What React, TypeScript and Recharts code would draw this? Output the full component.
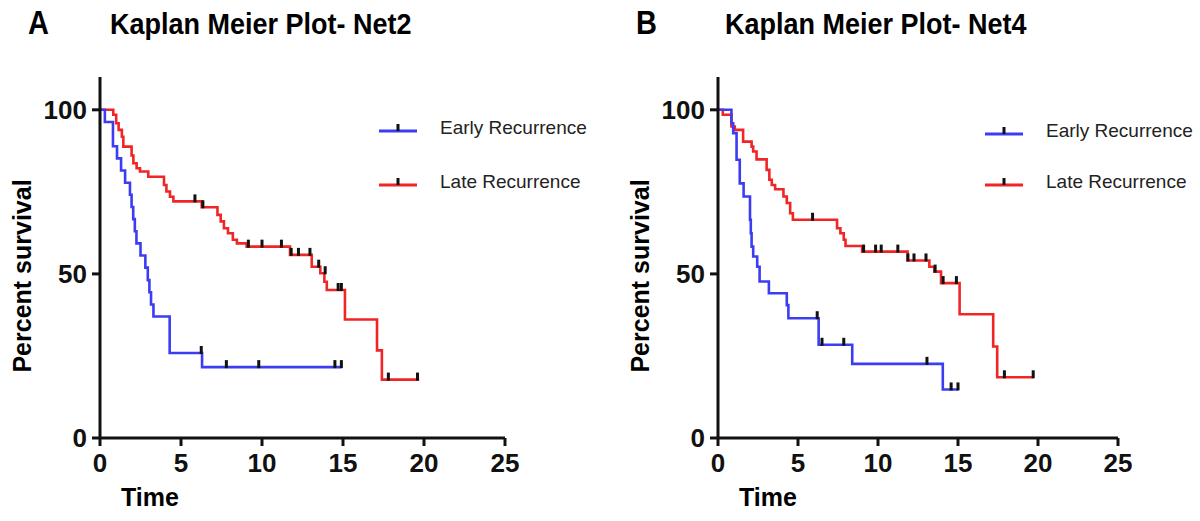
import { ComposedChart, Line, Scatter, XAxis, YAxis } from "recharts"

const X_TICKS = [0, 5, 10, 15, 20, 25]
const Y_TICKS = [0, 50, 100]

// Net2 - early recurrence (step times, percent survival)
const NET2_EARLY_T = [0, 0.3, 0.8, 1.05, 1.3, 1.55, 1.85, 1.95, 2.05, 2.15, 2.25, 2.5, 2.8, 2.95, 3.05, 3.15, 3.3, 4.3, 6.3, 14.9]
const NET2_EARLY_S = [100, 96.3, 88.9, 85.2, 81.5, 77.8, 74.1, 70.4, 66.7, 63, 59.3, 55.6, 51.9, 48.1, 44.4, 40.7, 37, 25.9, 21.6, 21.6]
const NET2_EARLY_CENS_T = [6.25, 7.8, 9.8, 14.5, 14.9]
const NET2_EARLY_CENS_S = [25.9, 21.6, 21.6, 21.6, 21.6]

// Net2 - late recurrence
const NET2_LATE_T = [0, 0.82, 1.0, 1.15, 1.35, 1.44, 1.95, 2.06, 2.26, 2.47, 2.98, 3.95, 4.1, 4.32, 4.53, 6.28, 7.25, 7.45, 7.65, 7.9, 8.2, 8.45, 9.05, 11.73, 13.07, 13.6, 13.85, 14.0, 15.12, 17.1, 17.4, 19.7]
const NET2_LATE_S = [100, 98.5, 95.9, 93.9, 91.8, 88.8, 86.1, 83.7, 82.2, 81.2, 79.6, 77.1, 75.1, 73.5, 72.1, 70.3, 68, 66, 63.9, 62.4, 60.4, 59.3, 58.3, 55.8, 52.2, 50.2, 47.6, 45.1, 36.1, 26.7, 17.8, 17.8]
const NET2_LATE_CENS_T = [5.86, 6.35, 9.16, 10.0, 11.2, 11.8, 12.25, 12.96, 13.5, 13.9, 14.7, 14.9, 17.8, 19.6]
const NET2_LATE_CENS_S = [72.1, 70.3, 58.3, 58.3, 58.3, 55.8, 55.8, 55.8, 52.2, 50.2, 45.1, 45.1, 17.8, 17.8]

// Net4 - early recurrence
const NET4_EARLY_T = [0, 0.84, 0.95, 1.16, 1.36, 1.6, 2.0, 2.05, 2.1, 2.2, 2.45, 2.6, 3.18, 4.3, 4.4, 6.29, 8.39, 14.05, 15.0]
const NET4_EARLY_S = [100, 95.9, 92.9, 84.8, 77.6, 73.6, 66.5, 62.4, 58.3, 55.3, 52.2, 47.7, 44.1, 40.5, 36.5, 28.4, 22.6, 14.8, 14.8]
const NET4_EARLY_CENS_T = [6.2, 6.5, 7.86, 13.06, 14.57, 15.0]
const NET4_EARLY_CENS_S = [36.5, 28.4, 28.4, 22.6, 14.8, 14.8]

// Net4 - late recurrence
const NET4_LATE_T = [0, 0.3, 0.84, 1.05, 1.57, 2.1, 2.2, 2.41, 3.04, 3.21, 3.36, 3.57, 4.09, 4.3, 4.51, 4.68, 7.44, 7.65, 7.86, 7.97, 9.01, 11.85, 13.21, 13.52, 13.94, 15.1, 17.2, 17.45, 19.7]
const NET4_LATE_S = [100, 98.5, 94.9, 93.9, 90.3, 88.8, 87.3, 84.9, 81.7, 78.7, 77.1, 75.8, 73.6, 71.6, 68.5, 66.5, 63.9, 62.4, 60.4, 58.5, 56.8, 54.1, 52.2, 50.7, 47.2, 37.7, 27.9, 18.5, 18.5]
const NET4_LATE_CENS_T = [5.91, 9.1, 9.85, 10.2, 11.24, 11.87, 12.25, 13.0, 13.57, 14.07, 14.9, 17.9, 19.7]
const NET4_LATE_CENS_S = [66.5, 56.8, 56.8, 56.8, 56.8, 54.1, 54.1, 54.1, 50.7, 47.2, 47.2, 18.5, 18.5]

const SERIES_NAMES = ["Early Recurrence", "Late Recurrence"]

const BLUE = "#3c3cf2"
const RED = "#f02525"
const FONT = "'Liberation Sans', Arial, sans-serif"

const zip = (t: number[], s: number[]) => t.map((x, i) => ({ t: x, s: s[i] }))

function CensorMark(props: any) {
  const { cx, cy } = props
  if (cx == null || cy == null) return <g />
  return <rect x={cx - 1.5} y={cy - 7} width={3} height={8} fill="#111" />
}

function LegendBox({ left, top, gap }: { left: number; top: number; gap: number }) {
  const colors = [BLUE, RED]
  return (
    <div style={{ position: "absolute", left, top, fontFamily: FONT, fontSize: 19, color: "#222" }}>
      {SERIES_NAMES.map((name, i) => (
        <div key={name} style={{ display: "flex", alignItems: "center", height: gap }}>
          <svg width={40} height={16} style={{ display: "block" }}>
            <line x1={0} y1={11} x2={38} y2={11} stroke={colors[i]} strokeWidth={3} />
            <rect x={17.5} y={4} width={3} height={7} fill="#111" />
          </svg>
          <span style={{ marginLeft: 21 }}>{name}</span>
        </div>
      ))}
    </div>
  )
}

interface PanelProps {
  left: number
  letter: string
  letterLeft: number
  title: string
  titleLeft: number
  plotWidth: number
  early: { t: number; s: number }[]
  late: { t: number; s: number }[]
  earlyCens: { t: number; s: number }[]
  lateCens: { t: number; s: number }[]
  legendLeft: number
  legendTop: number
  legendGap: number
}

function Panel(p: PanelProps) {
  const tickStyle = { fontSize: 26, fontWeight: 700, fill: "#111", fontFamily: FONT }
  return (
    <div style={{ position: "absolute", left: p.left, top: 0, width: 600, height: 521 }}>
      <ComposedChart
        width={600}
        height={521}
        margin={{ top: 77, right: 600 - 100 - p.plotWidth, bottom: 0, left: 0 }}
      >
        <XAxis
          type="number"
          dataKey="t"
          domain={[0, 25]}
          ticks={X_TICKS}
          allowDataOverflow
          height={83}
          stroke="#111"
          strokeWidth={3}
          tickSize={8}
          tickMargin={8}
          tick={tickStyle}
        />
        <YAxis
          type="number"
          dataKey="s"
          domain={[0, 110]}
          ticks={Y_TICKS}
          allowDataOverflow
          width={100}
          stroke="#111"
          strokeWidth={3}
          tickSize={8}
          tickMargin={5}
          tick={tickStyle}
        />
        <Line data={p.late} dataKey="s" type="stepAfter" stroke={RED} strokeWidth={2.6} dot={false} isAnimationActive={false} />
        <Line data={p.early} dataKey="s" type="stepAfter" stroke={BLUE} strokeWidth={2.6} dot={false} isAnimationActive={false} />
        <Scatter data={p.lateCens} dataKey="s" shape={CensorMark} isAnimationActive={false} />
        <Scatter data={p.earlyCens} dataKey="s" shape={CensorMark} isAnimationActive={false} />
      </ComposedChart>

      <div
        style={{
          position: "absolute",
          left: p.letterLeft,
          top: 4,
          fontFamily: FONT,
          fontSize: 29,
          fontWeight: 700,
          lineHeight: "34px",
          transform: "scaleY(1.12)",
          transformOrigin: "0 0",
        }}
      >
        {p.letter}
      </div>
      <div
        style={{
          position: "absolute",
          left: p.titleLeft,
          top: 5,
          fontFamily: FONT,
          fontSize: 27,
          fontWeight: 700,
          lineHeight: "34px",
          whiteSpace: "nowrap",
          transform: "scaleY(1.12)",
          transformOrigin: "0 0",
        }}
      >
        {p.title}
      </div>
      <div
        style={{
          position: "absolute",
          left: 22,
          top: 276,
          transform: "translate(-50%, -50%) rotate(-90deg)",
          fontFamily: FONT,
          fontSize: 25,
          fontWeight: 700,
          whiteSpace: "nowrap",
        }}
      >
        Percent survival
      </div>
      <div style={{ position: "absolute", left: 150, top: 497, transform: "translate(-50%, -50%)", fontFamily: FONT, fontSize: 25, fontWeight: 700 }}>
        Time
      </div>
      <LegendBox left={p.legendLeft} top={p.legendTop} gap={p.legendGap} />
    </div>
  )
}

export default function App() {
  return (
    <div style={{ position: "absolute", left: 0, top: 0, width: 1200, height: 521, background: "#fff", overflow: "hidden" }}>
      <Panel
        left={0}
        letter="A"
        letterLeft={28}
        title="Kaplan Meier Plot- Net2"
        titleLeft={110}
        plotWidth={405}
        early={zip(NET2_EARLY_T, NET2_EARLY_S)}
        late={zip(NET2_LATE_T, NET2_LATE_S)}
        earlyCens={zip(NET2_EARLY_CENS_T, NET2_EARLY_CENS_S)}
        lateCens={zip(NET2_LATE_CENS_T, NET2_LATE_CENS_S)}
        legendLeft={379}
        legendTop={101}
        legendGap={54}
      />
      <Panel
        left={618}
        letter="B"
        letterLeft={18}
        title="Kaplan Meier Plot- Net4"
        titleLeft={107}
        plotWidth={400}
        early={zip(NET4_EARLY_T, NET4_EARLY_S)}
        late={zip(NET4_LATE_T, NET4_LATE_S)}
        earlyCens={zip(NET4_EARLY_CENS_T, NET4_EARLY_CENS_S)}
        lateCens={zip(NET4_LATE_CENS_T, NET4_LATE_CENS_S)}
        legendLeft={367}
        legendTop={105}
        legendGap={51}
      />
    </div>
  )
}
